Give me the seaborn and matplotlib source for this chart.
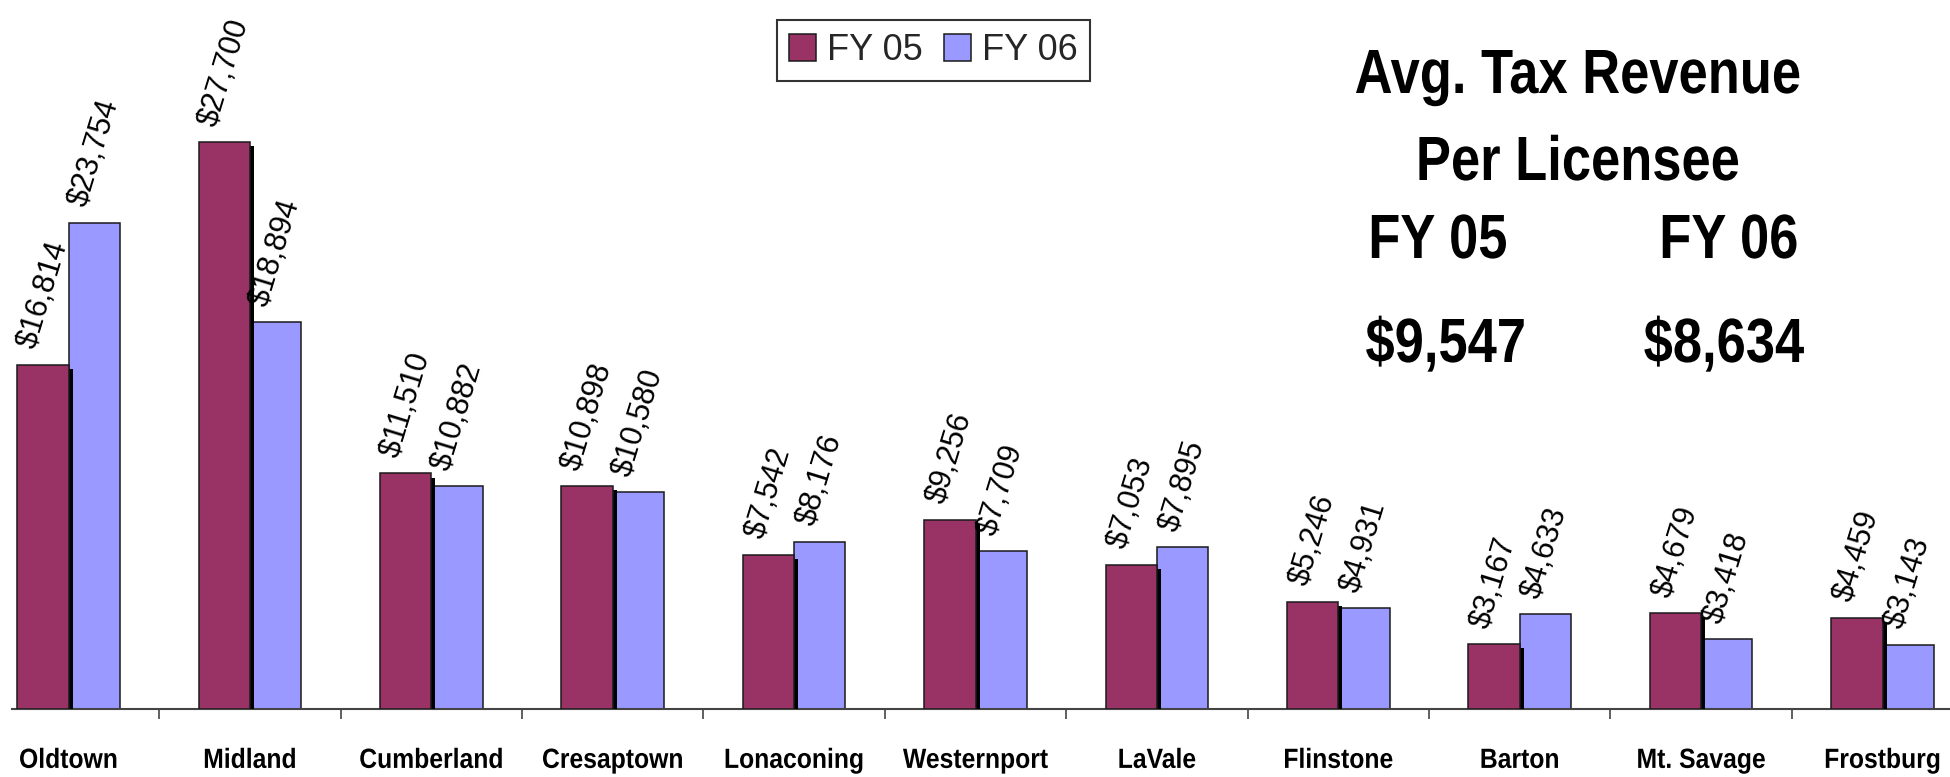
import matplotlib
matplotlib.use("Agg")
import matplotlib.pyplot as plt
import seaborn as sns
import pandas as pd
import numpy as np
from matplotlib import patheffects as pe
from matplotlib.patches import Patch
from matplotlib.ticker import FixedLocator
from matplotlib.transforms import Affine2D

# ---- data ----
towns = ["Oldtown", "Midland", "Cumberland", "Cresaptown", "Lonaconing",
         "Westernport", "LaVale", "Flinstone", "Barton", "Mt. Savage", "Frostburg"]
fy05 = [16814, 27700, 11510, 10898, 7542, 9256, 7053, 5246, 3167, 4679, 4459]
fy06 = [23754, 18894, 10882, 10580, 8176, 7709, 7895, 4931, 4633, 3418, 3143]
series = ["FY 05", "FY 06"]
colors = ["#993366", "#9999FF"]
avg_title = ["Avg. Tax Revenue", "Per Licensee"]
avg_years = ["FY 05", "FY 06"]
avg_values = ["$9,547", "$8,634"]


class Condense(pe.AbstractPathEffect):
    """Squeeze text horizontally around its own centre (narrow-font look)."""
    def __init__(self, sx=0.85):
        super().__init__()
        self.sx = sx

    def draw_path(self, renderer, gc, tpath, affine, rgbFace=None):
        v = tpath.vertices
        cx = (v[:, 0].min() + v[:, 0].max()) / 2 if len(v) else 0
        t = Affine2D().translate(-cx, 0).scale(self.sx, 1).translate(cx, 0) + affine
        renderer.draw_path(gc, tpath, t, rgbFace)


sns.set_theme(style="white")
plt.rcParams["font.family"] = ["Liberation Sans", "DejaVu Sans"]

df = pd.DataFrame({
    "Town": towns * 2,
    "Value": fy05 + fy06,
    "Year": [series[0]] * len(towns) + [series[1]] * len(towns),
})

W, H = 1950, 777
fig = plt.figure(figsize=(W / 100, H / 100), dpi=100)
ax = fig.add_axes([12 / W, 68 / H, 1961.2 / W, 709 / H])

sns.barplot(data=df, x="Town", y="Value", hue="Year", palette=colors,
            width=0.565, edgecolor="#1a1a1a", linewidth=1.1, saturation=1,
            legend=False, ax=ax)

# drop shadow on FY05 bars
for bar in ax.containers[0]:
    bar.set_zorder(3)
    bar.set_path_effects([pe.SimplePatchShadow(offset=(3, -3), shadow_rgbFace="black", alpha=1),
                          pe.Normal()])
for bar in ax.containers[1]:
    bar.set_zorder(2)

for cont, vals in zip(ax.containers, [fy05, fy06]):
    ax.bar_label(cont, labels=[f"${v:,}" for v in vals], padding=9, rotation=73,
                 fontsize=22, color="black", zorder=5)

ax.set_xlim(-0.3115, 10.5)
ax.set_ylim(0, 34632)
ax.set_yticks([])
ax.set_xlabel("")
ax.set_ylabel("")
ax.set_xticks(range(len(towns)))
ax.set_xticklabels(towns, fontweight="bold", fontsize=20)
for t in ax.get_xticklabels():
    t.set_path_effects([Condense(0.89)])
ax.xaxis.set_minor_locator(FixedLocator(np.arange(0.5, len(towns) - 1, 1)))
ax.tick_params(axis="x", which="major", length=0, pad=28, colors="black")
ax.tick_params(axis="x", which="minor", bottom=True, length=7, width=1.2,
               color="#444444", direction="out")
sns.despine(ax=ax, left=True)
ax.spines["bottom"].set_color("#444444")
ax.spines["bottom"].set_linewidth(1.5)

handles = [Patch(facecolor=c, edgecolor="#1a1a1a", linewidth=1.1) for c in colors]
leg = ax.legend(handles, series, loc="center", bbox_to_anchor=(933.5 / W, 1 - 50.5 / H),
                bbox_transform=fig.transFigure, ncol=2, frameon=True, fancybox=False,
                fontsize=26, handlelength=0.75, handleheight=0.75, handletextpad=0.3,
                columnspacing=0.58, borderpad=0.35, framealpha=1)
leg.get_frame().set_edgecolor("#333333")
leg.get_frame().set_linewidth(1.5)

big = dict(fontsize=45, fontweight="bold", ha="center", va="baseline", color="black")
cond = [Condense(0.84)]
fig.text(1578 / W, 1 - 93 / H, avg_title[0], path_effects=cond, **big)
fig.text(1578 / W, 1 - 180 / H, avg_title[1], path_effects=cond, **big)
fig.text(1438 / W, 1 - 258 / H, avg_years[0], path_effects=cond, **big)
fig.text(1729 / W, 1 - 258 / H, avg_years[1], path_effects=cond, **big)
fig.text(1446 / W, 1 - 362 / H, avg_values[0], path_effects=cond, **big)
fig.text(1724 / W, 1 - 362 / H, avg_values[1], path_effects=cond, **big)

fig.savefig("out.png", dpi=100, facecolor="white")
